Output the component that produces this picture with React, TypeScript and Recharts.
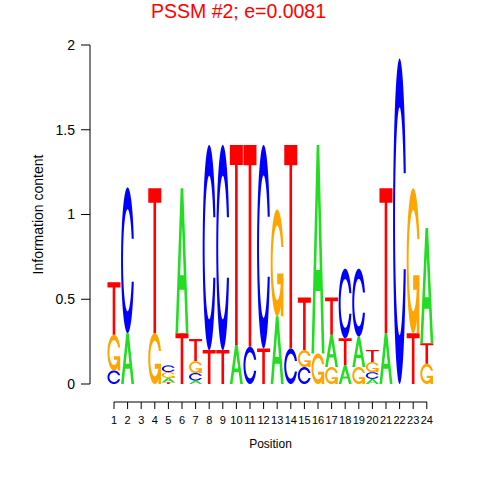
import React from 'react';
import { BarChart, Bar, XAxis, YAxis } from 'recharts';

const positions = [
  '1', '2', '3', '4', '5', '6', '7', '8', '9', '10', '11', '12',
  '13', '14', '15', '16', '17', '18', '19', '20', '21', '22', '23', '24',
];

// letters at each position, stacked bottom to top
const stackLetters = [
  'CGT', 'AC', '', 'GT', 'TAGC', 'TA', 'ACGT', 'TC', 'TC', 'AT', 'CT', 'TC',
  'AG', 'CT', 'CGT', 'GA', 'GAT', 'ATC', 'GAC', 'ACGT', 'AT', 'C', 'TG', 'GTA',
];

// information content of each letter, same order as stackLetters
const stackHeights = [
  [0.08, 0.21, 0.31],
  [0.3, 0.86],
  [],
  [0.3, 0.855],
  [0.01, 0.025, 0.035, 0.04],
  [0.3, 0.855],
  [0.02, 0.045, 0.07, 0.13],
  [0.2, 1.21],
  [0.2, 1.21],
  [0.23, 1.18],
  [0.22, 1.19],
  [0.21, 1.2],
  [0.4, 0.63],
  [0.21, 1.2],
  [0.1, 0.1, 0.31],
  [0.18, 1.23],
  [0.1, 0.19, 0.22],
  [0.11, 0.16, 0.41],
  [0.1, 0.18, 0.4],
  [0.03, 0.04, 0.06, 0.07],
  [0.3, 0.855],
  [1.92],
  [0.3, 0.855],
  [0.12, 0.12, 0.68],
];

const yTicks = [0, 0.5, 1, 1.5, 2];

const LAYERS = [0, 1, 2, 3];

const rows = positions.map((pos, i) => {
  const row: Record<string, string | number> = { pos };
  LAYERS.forEach((k) => {
    row[`h${k}`] = stackHeights[i][k] ?? 0;
    row[`l${k}`] = stackLetters[i][k] ?? '';
  });
  return row;
});

const COLORS: Record<string, string> = {
  A: '#22dd22',
  C: '#0000ff',
  G: '#ffa500',
  T: '#ff0000',
};

type Pt = [number, number];

// glyph outlines in a unit box, y pointing up (seqLogo style)
const A_OUTER: Pt[] = [[0, 0], [0.4, 1], [0.6, 1], [1, 0], [0.8, 0], [0.68, 0.3], [0.32, 0.3], [0.2, 0]];
const A_HOLE: Pt[] = [[0.36, 0.4], [0.5, 0.75], [0.64, 0.4]];
const T_SHAPE: Pt[] = [[0, 1], [1, 1], [1, 0.9], [0.6, 0.9], [0.6, 0], [0.4, 0], [0.4, 0.9], [0, 0.9]];

const seq = (a: number, b: number, n: number) =>
  Array.from({ length: n }, (_, i) => a + ((b - a) * i) / (n - 1));

const makeRing = (): Pt[] => {
  const a1 = seq(0.3 + Math.PI / 2, Math.PI, 60);
  const a2 = seq(Math.PI, 1.5 * Math.PI, 60);
  const outer: Pt[] = [...a1, ...a2].map((a) => [0.5 + 0.5 * Math.sin(a), 0.5 + 0.5 * Math.cos(a)]);
  const yMax = 0.5 + 0.5 * Math.cos(a1[0]);
  const inner1: Pt[] = a1
    .map((a) => [0.5 + 0.35 * Math.sin(a), 0.5 + 0.35 * Math.cos(a)] as Pt)
    .filter((p) => p[1] <= yMax);
  inner1[0] = [inner1[0][0], yMax];
  const inner2: Pt[] = a2.map((a) => [0.5 + 0.35 * Math.sin(a), 0.5 + 0.35 * Math.cos(a)]);
  const inner = [...inner1, ...inner2];
  const outerFull: Pt[] = [...outer, ...[...outer].reverse().map(([x, y]) => [x, 1 - y] as Pt)];
  const innerFull: Pt[] = [...inner, ...[...inner].reverse().map(([x, y]) => [x, 1 - y] as Pt)];
  return [...outerFull, ...innerFull.reverse()];
};

const RING = makeRing();
const R1 = 0.5 + 0.5 * Math.cos(0.3);
const G_BAR: Pt[] = [[R1, 0.4], [0.5, 0.4], [0.5, 0.3], [R1 - 0.2, 0.3], [R1 - 0.2, 0], [R1, 0]];

const LetterGlyph = (props: any) => {
  const { x, y, width, height, letter } = props;
  if (!letter || !height || height <= 0) return <g />;
  const fill = COLORS[letter];
  const p = (pts: Pt[]) =>
    'M' + pts.map(([u, v]) => `${x + u * width},${y + (1 - v) * height}`).join('L') + 'Z';
  if (letter === 'A') return <path d={p(A_OUTER) + p(A_HOLE)} fill={fill} fillRule="evenodd" />;
  if (letter === 'T') return <path d={p(T_SHAPE)} fill={fill} />;
  if (letter === 'C') return <path d={p(RING)} fill={fill} />;
  return (
    <g>
      <path d={p(RING)} fill={fill} />
      <path d={p(G_BAR)} fill={fill} />
    </g>
  );
};

const YTitle = () => (
  <text x={43} y={214.5} transform="rotate(-90 43 214.5)" textAnchor="middle" fontSize={14} fill="#000">
    Information content
  </text>
);

export default function App() {
  return (
    <div
      style={{
        position: 'absolute',
        left: 0,
        top: 0,
        width: 480,
        height: 480,
        fontFamily: '"Liberation Sans", Arial, sans-serif',
        background: '#fff',
      }}
    >
      <svg width={480} height={40} style={{ position: 'absolute', left: 0, top: 0 }}>
        <text x={238.5} y={18} textAnchor="middle" fontSize={19.5} fill="#ff0000">
          PSSM #2; e=0.0081
        </text>
      </svg>
      <BarChart
        width={480}
        height={480}
        data={rows}
        margin={{ top: 45, right: 29, bottom: 30, left: 0 }}
        barCategoryGap="2%"
      >
        <XAxis
          dataKey="pos"
          type="category"
          interval={0}
          height={48}
          padding={{ left: 17.2, right: 17.4 }}
          tickSize={7}
          tickMargin={7}
          tick={{ fontSize: 11, fill: '#000' }}
          tickLine={{ stroke: '#000' }}
          axisLine={{ stroke: '#000', strokeDasharray: '0 24 313 1000' }}
          label={{ value: 'Position', position: 'insideBottom', offset: 2, fontSize: 12, fill: '#000' }}
        />
        <YAxis
          type="number"
          domain={[0, 2]}
          ticks={yTicks}
          width={90}
          padding={{ top: 0, bottom: 18 }}
          tickSize={9}
          tickMargin={6}
          tick={{ fontSize: 14, fill: '#000' }}
          tickLine={{ stroke: '#000' }}
          axisLine={{ stroke: '#000', strokeDasharray: '339 1000' }}
          label={<YTitle />}
        />
        {LAYERS.map((k) => (
          <Bar
            key={k}
            dataKey={`h${k}`}
            stackId="logo"
            isAnimationActive={false}
            shape={(props: any) => <LetterGlyph {...props} letter={props.payload[`l${k}`]} />}
          />
        ))}
      </BarChart>
    </div>
  );
}
